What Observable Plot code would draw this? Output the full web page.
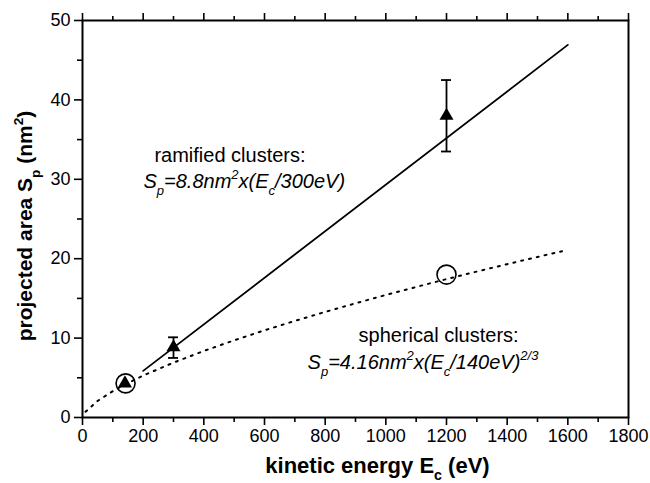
<!DOCTYPE html>
<html><head><meta charset="utf-8">
<script src="https://cdn.jsdelivr.net/npm/d3@7"></script>
<script src="https://cdn.jsdelivr.net/npm/@observablehq/plot@0.6"></script>
<style>
body{margin:0;background:#fff;}
#chart svg{font-family:"Liberation Sans",Arial,Helvetica,sans-serif;}
</style>
</head><body><div id="chart"></div>
<script>
// ---- data ----
const ramifiedE = [140, 300, 1200];
const ramifiedS = [4.3, 8.85, 38.0];
const errE = [300, 1200];
const errLow = [7.5, 33.5];
const errHigh = [10.1, 42.5];
const sphericalE = [142, 1200];
const sphericalS = [4.3, 18.0];
// fitted curves as drawn in the figure
const ramifiedFitE = [200, 1600];
const ramifiedFitS = [5.87, 46.93];
const sphericalFitE = [10, 50, 100, 140, 200, 300, 400, 500, 600, 700, 800, 900, 1000, 1100, 1200, 1300, 1400, 1500, 1600];
const sphericalFitS = [0.72, 2.09, 3.32, 4.16, 5.28, 6.91, 8.38, 9.72, 10.98, 12.16, 13.30, 14.38, 15.43, 16.44, 17.43, 18.38, 19.31, 20.22, 21.11];
const xTicks = [0, 200, 400, 600, 800, 1000, 1200, 1400, 1600, 1800];
const xMinorTicks = [100, 300, 500, 700, 900, 1100, 1300, 1500, 1700];
const yTicks = [0, 10, 20, 30, 40, 50];
const yMinorTicks = [5, 15, 25, 35, 45];
const annotE = [237, 201, 910, 742];
const annotS = [33.0, 29.7, 10.3, 6.9];
const annotText = ["ramified clusters:", "S_{p}=8.8nm^{2}x(E_{c}/300eV)", "spherical clusters:", "S_{p}=4.16nm^{2}x(E_{c}/140eV)^{2/3}"];
const annotItalic = [false, true, false, true];
const xLabel = "kinetic energy E_{c} (eV)";
const yLabel = "projected area S_{p} (nm^{2})";

// ---- tables ----
const ramified = ramifiedE.map((e, i) => ({e, s: ramifiedS[i]}));
const errs = errE.map((e, i) => ({e, lo: errLow[i], hi: errHigh[i]}));
const spherical = sphericalE.map((e, i) => ({e, s: sphericalS[i]}));
const fitR = ramifiedFitE.map((e, i) => ({e, s: ramifiedFitS[i]}));
const fitS = sphericalFitE.map((e, i) => ({e, s: sphericalFitS[i]}));
const annots = annotE.map((e, i) => ({e, s: annotS[i], t: annotText[i], it: annotItalic[i]}));

const chart = Plot.plot({
  width: 650, height: 483,
  marginLeft: 82, marginRight: 22, marginTop: 20, marginBottom: 66,
  style: {fontSize: "18px", color: "#000", background: "#fff", overflow: "visible"},
  x: {domain: [0, 1800]},
  y: {domain: [0, 50]},
  marks: [
    Plot.axisX({ticks: xTicks, tickSize: 8, tickPadding: 4, tickFormat: d => String(d), label: null, strokeWidth: 1.6}),
    Plot.axisX({ticks: xMinorTicks, tickSize: 5, tickFormat: () => "", label: null, strokeWidth: 1.6}),
    Plot.axisX({anchor: "top", ticks: xTicks, tickSize: 8, tickFormat: () => "", label: null, strokeWidth: 1.6}),
    Plot.axisX({anchor: "top", ticks: xMinorTicks, tickSize: 5, tickFormat: () => "", label: null, strokeWidth: 1.6}),
    Plot.axisY({ticks: yTicks, tickSize: 8, tickPadding: 4, tickFormat: d => String(d), label: null, strokeWidth: 1.6}),
    Plot.axisY({ticks: yMinorTicks, tickSize: 5, tickFormat: () => "", label: null, strokeWidth: 1.6}),
    Plot.frame({stroke: "#000", strokeWidth: 2}),
    Plot.line(fitS, {x: "e", y: "s", stroke: "#000", strokeWidth: 2, strokeDasharray: "2,6"}),
    Plot.line(fitR, {x: "e", y: "s", stroke: "#000", strokeWidth: 1.8}),
    Plot.ruleX(errs, {x: "e", y1: "lo", y2: "hi", stroke: "#000", strokeWidth: 1.8}),
    Plot.ruleY(errs, {y: "lo", x1: "e", x2: "e", insetLeft: -5, insetRight: -5, stroke: "#000", strokeWidth: 1.8}),
    Plot.ruleY(errs, {y: "hi", x1: "e", x2: "e", insetLeft: -5, insetRight: -5, stroke: "#000", strokeWidth: 1.8}),
    Plot.dot(spherical, {x: "e", y: "s", r: 9.5, stroke: "#000", strokeWidth: 1.6, fill: "none"}),
    Plot.dot(ramified, {x: "e", y: "s", symbol: "triangle", r: 5.2, fill: "#000", stroke: "none"}),
    Plot.text(annots.filter(d => !d.it), {x: "e", y: "s", text: "t", textAnchor: "start", lineAnchor: "middle", fontSize: 20, fill: "#000"}),
    Plot.text(annots.filter(d => d.it), {x: "e", y: "s", text: "t", textAnchor: "start", lineAnchor: "middle", fontSize: 20, fontStyle: "italic", fill: "#000"}),
    Plot.text([xLabel], {frameAnchor: "bottom", textAnchor: "middle", dx: 22, dy: 48, fontSize: 22, fontWeight: "bold", lineAnchor: "middle", fill: "#000"}),
    Plot.text([yLabel], {frameAnchor: "left", textAnchor: "middle", rotate: -90, dx: -57, dy: 7, fontSize: 21, fontWeight: "bold", lineAnchor: "middle", fill: "#000"})
  ]
});

// rich text: _{...} subscript, ^{...} superscript
function richify(svg) {
  svg.querySelectorAll("text").forEach(t => {
    const s = t.textContent;
    if (!/[_^]\{/.test(s)) return;
    const fs = parseFloat(getComputedStyle(t).fontSize) || 18;
    const parts = [];
    const re = /([_^])\{([^}]*)\}/g;
    let last = 0, m;
    while ((m = re.exec(s))) {
      if (m.index > last) parts.push({k: "n", v: s.slice(last, m.index)});
      parts.push({k: m[1] === "_" ? "sub" : "sup", v: m[2]});
      last = re.lastIndex;
    }
    if (last < s.length) parts.push({k: "n", v: s.slice(last)});
    const title = t.querySelector("title");
    while (t.firstChild) t.removeChild(t.firstChild);
    let off = 0;
    for (const p of parts) {
      const ts = document.createElementNS("http://www.w3.org/2000/svg", "tspan");
      let target = 0, size = fs;
      if (p.k === "sub") { target = 0.35 * fs; size = 0.65 * fs; }
      if (p.k === "sup") { target = -0.45 * fs; size = 0.65 * fs; }
      ts.setAttribute("dy", (target - off).toFixed(2));
      off = target;
      ts.setAttribute("font-size", size.toFixed(2));
      ts.textContent = p.v;
      t.appendChild(ts);
    }
    if (title) t.appendChild(title);
  });
}
document.getElementById("chart").appendChild(chart);
richify(chart);
</script>
</body></html>
